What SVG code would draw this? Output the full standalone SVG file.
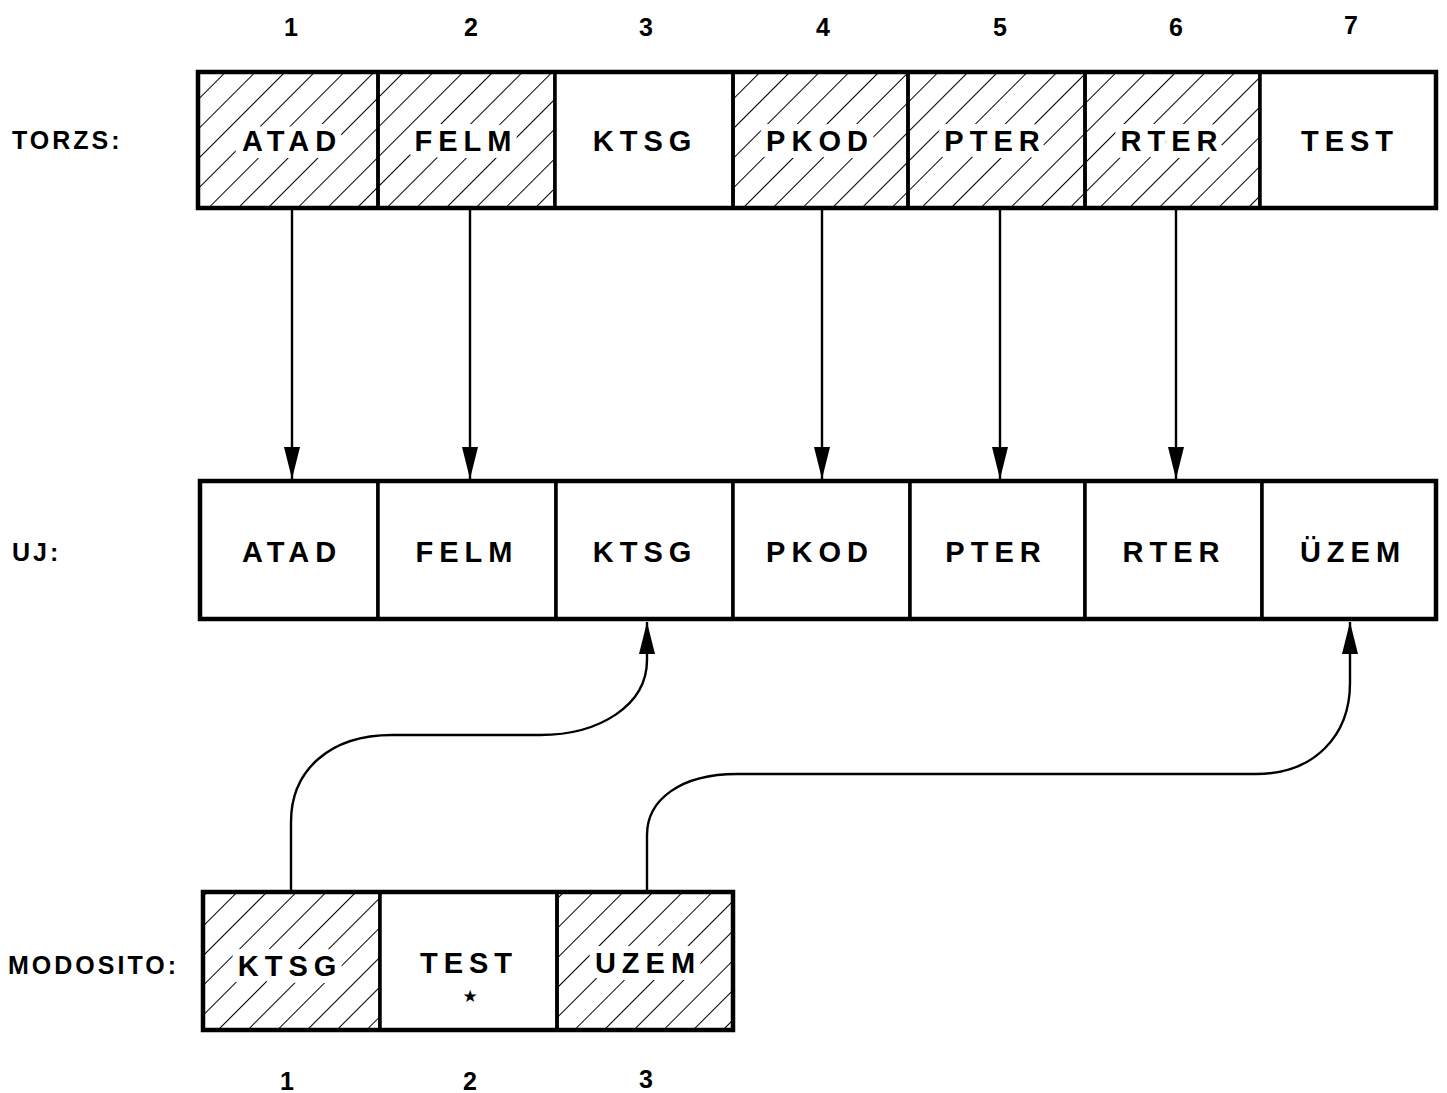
<svg xmlns="http://www.w3.org/2000/svg" width="1447" height="1093" viewBox="0 0 1447 1093">
<style>
.bg{fill:#ffffff}
.cell{fill:#ffffff;stroke:#000;stroke-width:3.5}
.hatch{fill:url(#hatch);stroke:#000;stroke-width:3.5}
.frame{fill:none;stroke:#000;stroke-width:4.5}
.lbl{font-family:"Liberation Sans",Arial,sans-serif;font-size:29px;font-weight:bold;letter-spacing:6px;text-anchor:middle;fill:#000}
.halo{stroke:#fff;stroke-width:14;paint-order:stroke;stroke-linejoin:round}
.row{font-family:"Liberation Sans",Arial,sans-serif;font-size:25px;font-weight:bold;letter-spacing:3px;fill:#000}
.num{font-family:"Liberation Sans",Arial,sans-serif;font-size:25px;font-weight:bold;text-anchor:middle;fill:#000}
.conn{fill:none;stroke:#000;stroke-width:2.4}
</style>
<defs>
<pattern id="hatch" patternUnits="userSpaceOnUse" width="21" height="21" patternTransform="rotate(45)">
<line x1="0" y1="0" x2="0" y2="21" stroke="#000" stroke-width="2"/>
</pattern>
<marker id="arr" markerUnits="userSpaceOnUse" markerWidth="32" markerHeight="16" viewBox="0 0 32 16" refX="32" refY="8" orient="auto">
<path d="M32,8 L0,0 L0,16 Z" fill="#000"/>
</marker>
</defs>
<rect class="bg" x="0" y="0" width="1447" height="1093"/>

<!-- column numbers -->
<g id="numbers-top">
<text class="num" x="291" y="36">1</text>
<text class="num" x="471" y="36">2</text>
<text class="num" x="646" y="36">3</text>
<text class="num" x="823" y="36">4</text>
<text class="num" x="1000" y="36">5</text>
<text class="num" x="1176" y="36">6</text>
<text class="num" x="1351" y="34">7</text>
</g>
<g id="numbers-bottom">
<text class="num" x="287" y="1090">1</text>
<text class="num" x="470" y="1090">2</text>
<text class="num" x="646" y="1088">3</text>
</g>

<!-- row labels -->
<text class="row" x="12" y="149">TORZS:</text>
<text class="row" x="12" y="561">UJ:</text>
<text class="row" x="8" y="974">MODOSITO:</text>

<!-- TORZS row -->
<g id="torzs">
<g id="torzs-atad"><rect class="hatch" x="198" y="72" width="180" height="136"/><text class="lbl halo" x="292" y="151">ATAD</text></g>
<g id="torzs-felm"><rect class="hatch" x="378" y="72" width="177" height="136"/><text class="lbl halo" x="466" y="151">FELM</text></g>
<g id="torzs-ktsg"><rect class="cell" x="555" y="72" width="178" height="136"/><text class="lbl" x="645" y="151">KTSG</text></g>
<g id="torzs-pkod"><rect class="hatch" x="733" y="72" width="175" height="136"/><text class="lbl halo" x="820" y="151">PKOD</text></g>
<g id="torzs-pter"><rect class="hatch" x="908" y="72" width="177" height="136"/><text class="lbl halo" x="995" y="151">PTER</text></g>
<g id="torzs-rter"><rect class="hatch" x="1085" y="72" width="175" height="136"/><text class="lbl halo" x="1172" y="151">RTER</text></g>
<g id="torzs-test"><rect class="cell" x="1260" y="72" width="176" height="136"/><text class="lbl" x="1350" y="151">TEST</text></g>
<rect class="frame" x="198" y="72" width="1238" height="136"/>
</g>

<!-- UJ row -->
<g id="uj">
<g id="uj-atad"><rect class="cell" x="200" y="481" width="178" height="138"/><text class="lbl" x="292" y="562">ATAD</text></g>
<g id="uj-felm"><rect class="cell" x="378" y="481" width="178" height="138"/><text class="lbl" x="467" y="562">FELM</text></g>
<g id="uj-ktsg"><rect class="cell" x="556" y="481" width="177" height="138"/><text class="lbl" x="645" y="562">KTSG</text></g>
<g id="uj-pkod"><rect class="cell" x="733" y="481" width="177" height="138"/><text class="lbl" x="820" y="562">PKOD</text></g>
<g id="uj-pter"><rect class="cell" x="910" y="481" width="175" height="138"/><text class="lbl" x="996" y="562">PTER</text></g>
<g id="uj-rter"><rect class="cell" x="1085" y="481" width="177" height="138"/><text class="lbl" x="1174" y="562">RTER</text></g>
<g id="uj-uzem"><rect class="cell" x="1262" y="481" width="174" height="138"/><text class="lbl" x="1353" y="562">ÜZEM</text></g>
<rect class="frame" x="200" y="481" width="1236" height="138"/>
</g>

<!-- MODOSITO row -->
<g id="modosito">
<g id="mod-ktsg"><rect class="hatch" x="203" y="892" width="177" height="138"/><text class="lbl halo" x="290" y="976">KTSG</text></g>
<g id="mod-test"><rect class="cell" x="380" y="892" width="177" height="138"/><text class="lbl" x="469" y="973">TEST</text><text x="470" y="1002" font-family="DejaVu Sans,sans-serif" font-size="17" text-anchor="middle">★</text></g>
<g id="mod-uzem"><rect class="hatch" x="557" y="892" width="176" height="138"/><text class="lbl halo" x="648" y="973">UZEM</text></g>
<rect class="frame" x="203" y="892" width="530" height="138"/>
</g>

<!-- connectors -->
<g id="connectors">
<path class="conn" d="M292,210 V479" marker-end="url(#arr)"/>
<path class="conn" d="M470,210 V479" marker-end="url(#arr)"/>
<path class="conn" d="M822,210 V479" marker-end="url(#arr)"/>
<path class="conn" d="M1000,210 V479" marker-end="url(#arr)"/>
<path class="conn" d="M1176,210 V479" marker-end="url(#arr)"/>
<path class="conn" d="M291,890 V822 C291,770 330,735 392,735 H540 C600,735 647,705 647,660 V622" marker-end="url(#arr)"/>
<path class="conn" d="M647,890 V835 C647,800 680,774 737,774 H1256 C1315,774 1350,735 1350,683 V622" marker-end="url(#arr)"/>
</g>
</svg>
